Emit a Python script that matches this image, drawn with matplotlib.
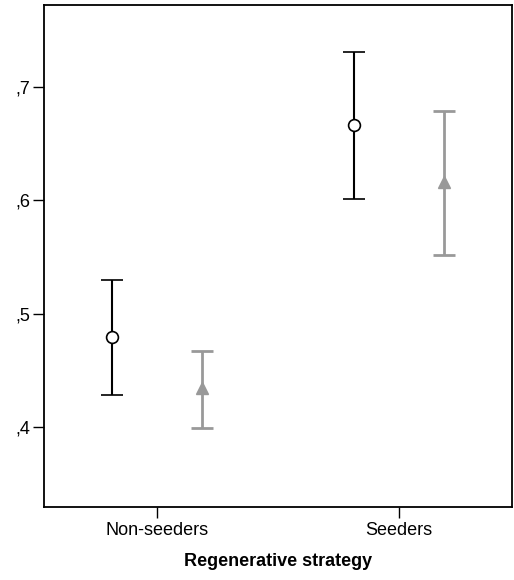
import matplotlib
matplotlib.use("Agg")
import matplotlib.pyplot as plt
import numpy as np

plt.rcParams['font.family'] = ['Liberation Sans', 'DejaVu Sans']

categories = ["Non-seeders", "Seeders"]

# series 1 (black, open circles)
mean_a = [0.479, 0.667]
low_a = [0.428, 0.601]
high_a = [0.530, 0.731]

# series 2 (grey, triangles)
mean_b = [0.434, 0.616]
low_b = [0.399, 0.552]
high_b = [0.467, 0.679]

yticks = [0.4, 0.5, 0.6, 0.7]

fig = plt.figure(figsize=(5.14, 5.8), dpi=100)
ax = fig.add_axes([0.0856, 0.126, 0.9104, 0.865])

x = np.arange(len(categories))
off = 0.1855
grey = "#999999"

ma = np.array(mean_a)
ax.errorbar(x - off, ma, yerr=[ma - np.array(low_a), np.array(high_a) - ma],
            fmt="o", color="black", mfc="white", mec="black", ms=8.5, mew=1.2,
            elinewidth=1.5, capsize=8, capthick=1.5, zorder=3)
mb = np.array(mean_b)
ax.errorbar(x + off, mb, yerr=[mb - np.array(low_b), np.array(high_b) - mb],
            fmt="^", color=grey, mfc=grey, mec=grey, ms=8,
            elinewidth=2, capsize=8, capthick=2, zorder=3)

ax.set_xlim(-0.4645, 1.4645)
ax.set_ylim(0.329, 0.7726)
ax.set_xticks(x)
ax.set_xticklabels(categories, fontsize=13)
ax.set_yticks(yticks)
ax.set_yticklabels(["," + f"{v:.1f}".split(".")[1] for v in yticks], fontsize=13)
ax.tick_params(direction="out", length=8, width=1, pad=3)
ax.tick_params(axis="y", pad=2)
for s in ax.spines.values():
    s.set_linewidth(1.3)
ax.set_xlabel("Regenerative strategy", fontsize=13, fontweight="bold", labelpad=10)

fig.savefig("out.png", dpi=100)
